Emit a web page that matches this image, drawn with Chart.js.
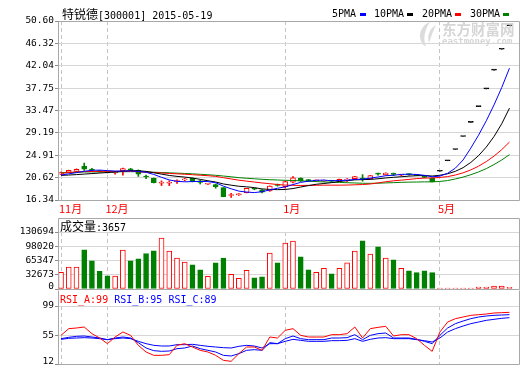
<!DOCTYPE html>
<html lang="zh-CN">
<head>
<meta charset="utf-8">
<title>特锐德[300001] 2015-05-19</title>
<script src="https://cdn.jsdelivr.net/npm/chart.js@4.4.1/dist/chart.umd.min.js"></script>
<style>
html,body{margin:0;padding:0;background:#fff;}
#wrap{position:relative;width:520px;height:365px;overflow:hidden;background:#fff;}
canvas{position:absolute;left:0;}
.t{position:absolute;white-space:nowrap;line-height:10px;font-family:"DejaVu Sans Mono",monospace;font-size:10px;color:#000;}
.cjk{font-family:"Noto Sans CJK SC",sans-serif;font-size:12px;}
.sq{position:absolute;width:6px;height:3px;}
.wm{position:absolute;white-space:nowrap;color:#d6d6d6;font-weight:bold;line-height:1;}
</style>
</head>
<body>
<div id="wrap">
  <canvas id="cMain" width="520" height="218" style="top:0;width:520px;height:218px"></canvas>
  <canvas id="cVol" width="520" height="72" style="top:218px;width:520px;height:72px"></canvas>
  <canvas id="cRsi" width="520" height="75" style="top:290px;width:520px;height:75px"></canvas>

  <div class="t" style="left:62px;top:9px;"><span class="cjk">特锐德</span>[300001] 2015-05-19</div>

  <div class="t" style="left:332px;top:9px;">5PMA</div><div class="sq" style="left:360px;top:13px;background:#0000ff"></div>
  <div class="t" style="left:374px;top:9px;">10PMA</div><div class="sq" style="left:407px;top:13px;background:#000000"></div>
  <div class="t" style="left:422px;top:9px;">20PMA</div><div class="sq" style="left:455px;top:13px;background:#ff0000"></div>
  <div class="t" style="left:470px;top:9px;">30PMA</div><div class="sq" style="left:503px;top:13px;background:#008000"></div>

  <svg style="position:absolute;left:416px;top:21px" width="24" height="26" viewBox="0 0 24 26">
    <path d="M14 1 C6 4 2 12 5 20 C6 23 8 25 10 25 C7 19 8 10 14 1 Z" fill="#dcdcdc"/>
    <path d="M20 4 C13 8 11 15 13 22 C15 16 17 10 20 4 Z" fill="#dcdcdc"/>
  </svg>
  <div class="wm" style="left:442px;top:22px;font-family:'Noto Sans CJK SC',sans-serif;font-size:14.5px;">东方财富网</div>
  <div class="wm" style="left:442px;top:37px;font-family:'DejaVu Sans Mono',monospace;font-size:9px;">eastmoney.com</div>

  <div class="t" style="left:60px;top:221px;"><span class="cjk">成交量</span>:3657</div>
  <div class="t" style="left:60px;top:295px;"><span style="color:#ff0000">RSI_A:99</span> <span style="color:#0000ff">RSI_B:95 RSI_C:89</span></div>
</div>
<script>
// ---------- data ----------
const monthTicks  = [0, 6, 29, 49];
const monthLabels = ['11月', '12月', '1月', '5月'];
const priceTicks  = [16.34, 20.62, 24.91, 29.19, 33.47, 37.75, 42.04, 46.32, 50.60];
const volumeTicks = [0, 32673, 65347, 98020, 130694];
const rsiTicks    = [12, 55, 99];

const openP = [21.3,21.7,21.8,22.8,22.1,21.95,21.6,21.5,21.9,22.3,
  22.0,20.8,20.5,19.55,19.55,19.85,20.2,20.5,20.0,19.35,
  19.3,18.7,17.2,17.3,17.75,18.5,18.3,18.1,19.25,18.9,
  19.75,20.5,20.15,20.0,19.95,20.05,19.9,20.15,20.4,20.45,
  20.4,21.35,21.15,21.3,21.1,21.3,21.15,21.0,20.5,21.84,
  23.85,26.0,28.5,31.2,34.2,37.6,41.2,45.2,49.7];
const highP = [21.7,22.05,22.3,23.4,22.4,22.0,21.7,21.8,22.45,22.4,
  22.1,21.1,20.55,20.0,20.0,20.2,20.5,20.55,20.1,19.5,
  19.4,18.7,17.6,17.55,18.6,18.6,18.35,19.05,19.4,20.0,
  20.8,20.6,20.3,20.15,20.15,20.1,20.35,20.45,20.85,21.2,
  21.05,21.5,21.55,21.5,21.25,21.35,21.2,21.05,20.55,21.84,
  23.85,26.0,28.5,31.2,34.2,37.6,41.2,45.2,49.7];
const lowP = [21.2,21.65,21.75,22.0,21.8,21.65,21.5,21.3,21.1,22.0,
  20.85,20.4,19.6,19.1,19.1,19.5,20.0,19.8,19.4,19.3,
  18.6,16.95,16.85,17.2,17.7,18.3,17.7,18.0,19.0,18.6,
  19.6,19.9,19.9,19.9,19.9,19.85,19.85,19.9,20.3,19.95,
  20.35,21.1,21.1,21.0,21.0,21.1,21.0,20.6,19.8,21.84,
  23.85,26.0,28.5,31.2,34.2,37.6,41.2,45.2,49.7];
const closeP = [21.6,22.0,22.2,22.25,22.05,21.8,21.55,21.7,22.35,22.1,
  21.3,20.75,19.65,19.6,19.6,19.95,20.3,19.9,19.7,19.45,
  18.9,17.0,17.35,17.5,18.55,18.4,17.85,19.0,19.15,19.85,
  20.6,20.0,20.05,20.05,20.05,19.95,20.3,20.25,20.8,20.35,
  21.0,21.3,21.5,21.25,21.15,21.2,21.05,20.65,19.85,21.84,
  23.85,26.0,28.5,31.2,34.2,37.6,41.2,45.2,49.7];
const volume = [38500,50000,50000,89900,64500,40800,30000,29500,89500,64500,
  69000,81500,87500,116800,86800,70700,61500,55300,43800,29200,
  60000,70700,33800,24600,43000,25400,27700,82200,60000,105300,
  109900,73800,43800,38400,47600,34600,47600,60000,86800,110600,
  79900,96800,70700,66800,47600,41500,37700,41500,37700,1500,
  1500,1500,1500,1500,4600,4600,6900,6900,3657];
const ma5 = [21.12,21.35,21.58,21.84,22.02,22.06,21.97,21.87,21.89,21.9,
  21.8,21.64,21.23,20.68,20.18,19.91,19.82,19.87,19.89,19.86,
  19.65,18.99,18.48,18.04,17.86,17.76,17.93,18.26,18.59,18.85,
  19.29,19.72,19.93,20.11,20.15,20.02,20.08,20.12,20.27,20.33,
  20.54,20.74,20.99,21.08,21.24,21.28,21.23,21.06,20.78,20.92,
  21.45,22.44,24.0,26.28,28.75,31.5,34.54,37.88,41.58];
const ma10 = [21.05,21.12,21.2,21.3,21.4,21.5,21.6,21.7,21.85,21.97,
  21.94,21.81,21.56,21.29,21.04,20.86,20.73,20.55,20.29,20.02,
  19.78,19.41,19.18,18.97,18.86,18.71,18.46,18.37,18.32,18.36,
  18.53,18.83,19.1,19.35,19.5,19.66,19.9,20.03,20.19,20.24,
  20.28,20.41,20.56,20.68,20.79,20.91,20.99,21.03,20.93,21.08,
  21.36,21.83,22.53,23.53,24.83,26.47,28.49,30.94,33.93];
const ma20 = [21.45,21.6,21.7,21.78,21.8,21.82,21.82,21.82,21.83,21.82,
  21.75,21.68,21.6,21.5,21.42,21.35,21.27,21.18,21.08,20.99,
  20.86,20.61,20.37,20.13,19.95,19.78,19.6,19.46,19.3,19.19,
  19.15,19.12,19.14,19.16,19.18,19.18,19.18,19.2,19.25,19.3,
  19.4,19.62,19.83,20.01,20.14,20.28,20.44,20.53,20.56,20.66,
  20.82,21.12,21.54,22.1,22.81,23.69,24.74,25.98,27.43];
const ma30 = [21.55,21.6,21.65,21.7,21.72,21.72,21.72,21.73,21.75,21.76,
  21.75,21.72,21.66,21.6,21.54,21.48,21.42,21.35,21.26,21.17,
  21.07,20.93,20.78,20.62,20.5,20.4,20.3,20.22,20.17,20.11,
  20.08,20.01,19.94,19.87,19.8,19.74,19.7,19.65,19.6,19.54,
  19.53,19.55,19.61,19.66,19.72,19.76,19.78,19.81,19.81,19.89,
  20.06,20.36,20.73,21.18,21.71,22.35,23.12,24.0,25.02];
const rsiA = [55,65,66,67.5,57.5,51,42.5,52.5,60,55,
  40,30,25,25,26,40,42.5,37.5,32.5,30,
  25,17.5,16,27.5,37.5,37.5,32.5,52.5,51,62.5,
  65,55,52.5,52.5,52.5,56,56,57.5,67.5,51,
  65,67,68.5,54,56,56,50,40,31,60,
  75,80,82.5,85,86,87,88.5,89,89.5];
const rsiB = [50,52,53.5,54,52.5,51,48.5,51,52.5,51,
  44,36,32,31,31.5,35,36,39,35,32.5,
  30,25,24,27.5,32.5,33.5,32.5,44,42.5,50,
  54,50,48.5,48.5,48.5,51,51,51.5,56,48.5,
  55,57.5,58.5,51,51,51,49,46,42.5,55,
  66,72.5,76.5,80,82.5,84,85,85.5,86];
const rsiC = [49,50.5,51,51.5,51,50,48.5,50,51,50,
  46,42.5,40,39,39,41,41,41.5,40,38.5,
  37.5,36.5,36,38.5,40,39,36,42.5,42.5,46,
  49,47.5,46,46,46,47,47,47.5,50,46,
  49,51,51.5,50,50,50,48.5,47,45,51,
  60,65,69,72.5,75,77.5,79,80.5,81.5];

// ---------- helpers ----------
const X_MIN = -0.26, X_MAX = 59.23;
const UP = '#ff0000', DOWN = '#008000', FLAT = '#000000';
const days = closeP.map((_, i) => i);
const kind = i => (openP[i] === closeP[i] && highP[i] === lowP[i]) ? 'flat' : (closeP[i] >= openP[i] ? 'up' : 'down');
const candleColor = days.map(i => kind(i) === 'flat' ? FLAT : kind(i) === 'up' ? UP : DOWN);
const bodyFill = days.map(i => kind(i) === 'up' ? '#ffffff' : candleColor[i]);
const volColor = days.map(i => kind(i) === 'down' ? DOWN : UP);
const volFill = days.map(i => kind(i) === 'down' ? DOWN : '#ffffff');

const boxPlugin = {
  id: 'panelBox',
  afterDraw(chart, args, opts) {
    const a = chart.chartArea, ctx = chart.ctx;
    const top = (opts.top !== undefined) ? opts.top : a.top;
    const l = Math.round(a.left) - 0.5, r = Math.round(a.right) + 0.5;
    const t = Math.round(top) + 0.5, b = Math.round(a.bottom) + 0.5;
    ctx.save();
    ctx.strokeStyle = '#a8a8a8'; ctx.lineWidth = 1;
    ctx.beginPath();
    ctx.moveTo(l, t); ctx.lineTo(l, b); ctx.lineTo(r, b); ctx.lineTo(r, t);
    if (opts.drawTop !== false) { ctx.lineTo(l, t); }
    ctx.stroke();
    ctx.restore();
  }
};

function xAxis(showLabels) {
  return {
    type: 'linear', min: X_MIN, max: X_MAX, offset: false,
    afterBuildTicks: s => { s.ticks = monthTicks.map(v => ({ value: v })); },
    afterFit: s => { s.height = showLabels ? 18 : 0; s.paddingLeft = 0; s.paddingRight = 0; },
    grid: { color: '#c4c4c4', lineWidth: 1, drawTicks: false, offset: false },
    border: { display: false, dash: [4, 3] },
    ticks: {
      display: showLabels, autoSkip: false, maxRotation: 0, minRotation: 0,
      align: 'start', labelOffset: -2, padding: 2, color: '#ff0000',
      font: { family: '"Noto Sans CJK SC", sans-serif', size: 11 },
      callback: v => { const k = monthTicks.indexOf(v); return k >= 0 ? monthLabels[k] : ''; }
    }
  };
}
function yAxis(min, max, tickVals, fmt) {
  return {
    type: 'linear', position: 'left', min, max,
    afterBuildTicks: s => { s.ticks = tickVals.map(v => ({ value: v })); },
    afterFit: s => { s.width = 59; s.paddingTop = 0; s.paddingBottom = 0; },
    grid: { color: '#d6d6d6', lineWidth: 1, drawTicks: true, tickLength: 4, tickColor: '#8a8a8a' },
    border: { display: false },
    ticks: { color: '#000', padding: 1, autoSkip: false,
      font: { family: '"DejaVu Sans Mono", monospace', size: 9.5, lineHeight: 0.6 },
      callback: fmt }
  };
}
const baseOpts = (pad) => ({
  responsive: false, animation: false, events: [],
  layout: { padding: pad },
  plugins: { legend: { display: false }, tooltip: { enabled: false } }
});
const line = (arr, color, order) => ({
  type: 'line', data: days.map(i => ({ x: i, y: arr[i] })), borderColor: color,
  borderWidth: 1, pointRadius: 0, tension: 0, fill: false, order
});

// ---------- main price panel ----------
new Chart(document.getElementById('cMain'), {
  type: 'bar',
  data: { datasets: [
    line(ma5, '#0000ff', 0), line(ma10, '#000000', 0), line(ma20, '#ff0000', 0), line(ma30, '#008000', 0),
    { type: 'bar', data: days.map(i => ({ x: i, y: [openP[i], closeP[i]] })),
      backgroundColor: bodyFill, borderColor: candleColor, borderWidth: 1, borderSkipped: false,
      barThickness: 5, minBarLength: 1, grouped: false, order: 2 },
    { type: 'bar', data: days.map(i => ({ x: i, y: [lowP[i], highP[i]] })),
      backgroundColor: candleColor, borderWidth: 0, barThickness: 1, grouped: false, order: 3 }
  ]},
  options: Object.assign(baseOpts({ top: 21, right: 1, bottom: 0, left: 0 }), {
    scales: { x: xAxis(true), y: yAxis(16.34, 50.60, priceTicks, v => v.toFixed(2)) },
    plugins: { legend: { display: false }, tooltip: { enabled: false }, panelBox: {} }
  }),
  plugins: [boxPlugin]
});

// ---------- volume panel ----------
new Chart(document.getElementById('cVol'), {
  type: 'bar',
  data: { datasets: [
    { type: 'bar', data: days.map(i => ({ x: i, y: volume[i] })),
      backgroundColor: volFill, borderColor: volColor, borderWidth: 1, borderSkipped: false,
      barThickness: 5, minBarLength: 1, grouped: false }
  ]},
  options: Object.assign(baseOpts({ top: 14, right: 1, bottom: 1, left: 0 }), {
    scales: { x: xAxis(false), y: yAxis(0, 130694, volumeTicks, v => v === 0 ? ['0', ''] : String(v)) },
    plugins: { legend: { display: false }, tooltip: { enabled: false }, panelBox: { top: 0 } }
  }),
  plugins: [boxPlugin]
});

// ---------- RSI panel ----------
new Chart(document.getElementById('cRsi'), {
  type: 'line',
  data: { datasets: [ line(rsiA, '#ff0000', 0), line(rsiB, '#0000ff', 1), line(rsiC, '#0000ff', 2) ] },
  options: Object.assign(baseOpts({ top: 16, right: 1, bottom: 1, left: 0 }), {
    scales: { x: xAxis(false), y: yAxis(12, 99, rsiTicks, v => v === 12 ? ['12', ''] : String(v)) },
    plugins: { legend: { display: false }, tooltip: { enabled: false }, panelBox: { top: 0, drawTop: false } }
  }),
  plugins: [boxPlugin]
});
</script>
</body>
</html>
